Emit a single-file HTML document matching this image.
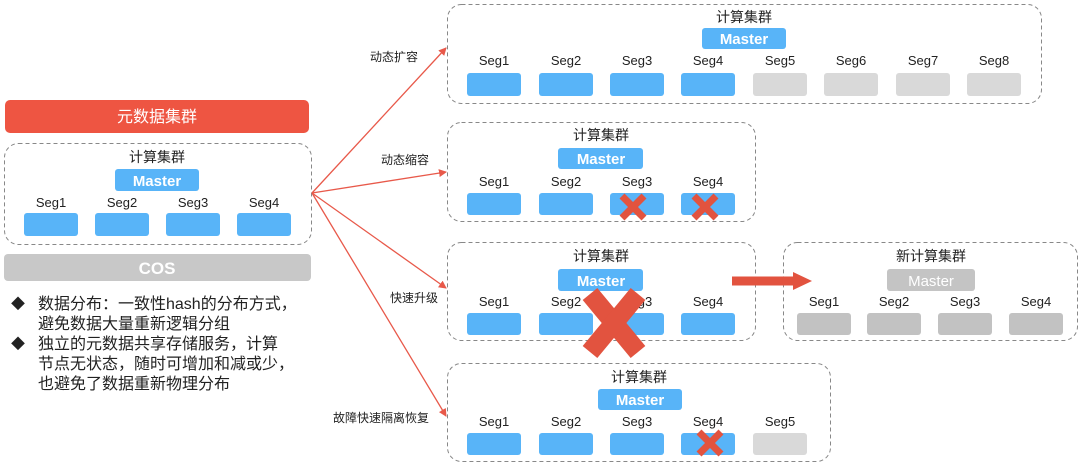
<!DOCTYPE html>
<html><head><meta charset="utf-8"><style>
body{margin:0;background:#fff}
svg{display:block;font-family:"Liberation Sans","Noto Sans CJK SC",sans-serif}
</style></head><body>
<svg width="1080" height="464" viewBox="0 0 1080 464" xmlns="http://www.w3.org/2000/svg">
<defs>
<marker id="ah" markerWidth="8" markerHeight="8" refX="7" refY="4" orient="auto" markerUnits="userSpaceOnUse"><path d="M0,0 L8,4 L0,8 z" fill="#e8594a"/></marker>
</defs>
<g fill="none" stroke="#888" stroke-dasharray="4,3" stroke-width="1">
<rect x="4.5" y="143.5" width="307" height="101" rx="14"/>
<rect x="447.5" y="4.5" width="594" height="99" rx="14"/>
<rect x="447.5" y="122.5" width="308" height="99" rx="14"/>
<rect x="447.5" y="242.5" width="308" height="98" rx="14"/>
<rect x="783.5" y="242.5" width="294" height="98" rx="14"/>
<rect x="447.5" y="363.5" width="383" height="98" rx="14"/>
</g>
<rect x="5" y="100" width="304" height="33" rx="5" fill="#ee5542"/>
<text x="157" y="122" font-size="16" fill="#fff" text-anchor="middle">元数据集群</text>
<rect x="4" y="254" width="307" height="27" rx="4" fill="#c8c8c8"/>
<text x="157" y="274" font-size="17" font-weight="bold" fill="#fff" text-anchor="middle">COS</text>
<g stroke="#e8594a" stroke-width="1.3" marker-end="url(#ah)">
<line x1="312" y1="193" x2="446" y2="48"/>
<line x1="312" y1="193" x2="446" y2="172"/>
<line x1="312" y1="193" x2="446" y2="288"/>
<line x1="312" y1="193" x2="446" y2="416"/>
</g>
<g font-size="12" fill="#222">
<text x="370" y="61">动态扩容</text>
<text x="381" y="164">动态缩容</text>
<text x="390" y="302">快速升级</text>
<text x="333" y="422">故障快速隔离恢复</text>
</g>
<g font-size="14" fill="#222" text-anchor="middle">
<text x="157" y="162">计算集群</text>
<text x="744" y="22">计算集群</text>
<text x="601" y="140">计算集群</text>
<text x="601" y="261">计算集群</text>
<text x="931" y="261">新计算集群</text>
<text x="639" y="382">计算集群</text>
</g>
<g font-size="15" font-weight="bold" fill="#fff" text-anchor="middle">
<rect x="115" y="169" width="84" height="22" rx="3" fill="#58b4f8"/><text x="157" y="186">Master</text>
<rect x="702" y="28" width="84" height="21" rx="3" fill="#58b4f8"/><text x="744" y="44">Master</text>
<rect x="558" y="148" width="85" height="21" rx="3" fill="#58b4f8"/><text x="601" y="164">Master</text>
<rect x="558" y="269" width="85" height="22" rx="3" fill="#58b4f8"/><text x="601" y="286">Master</text>
<rect x="887" y="269" width="88" height="22" rx="3" fill="#c4c4c4"/><text x="931" y="286" font-weight="normal">Master</text>
<rect x="598" y="389" width="84" height="21" rx="3" fill="#58b4f8"/><text x="640" y="405">Master</text>
</g>
<g font-size="13" fill="#222" text-anchor="middle">
<text x="51" y="207">Seg1</text><text x="122" y="207">Seg2</text><text x="193" y="207">Seg3</text><text x="264" y="207">Seg4</text>
<text x="494" y="65">Seg1</text><text x="566" y="65">Seg2</text><text x="637" y="65">Seg3</text><text x="708" y="65">Seg4</text><text x="780" y="65">Seg5</text><text x="851" y="65">Seg6</text><text x="923" y="65">Seg7</text><text x="994" y="65">Seg8</text>
<text x="494" y="186">Seg1</text><text x="566" y="186">Seg2</text><text x="637" y="186">Seg3</text><text x="708" y="186">Seg4</text>
<text x="494" y="306">Seg1</text><text x="566" y="306">Seg2</text><text x="637" y="306">Seg3</text><text x="708" y="306">Seg4</text>
<text x="824" y="306">Seg1</text><text x="894" y="306">Seg2</text><text x="965" y="306">Seg3</text><text x="1036" y="306">Seg4</text>
<text x="494" y="426">Seg1</text><text x="566" y="426">Seg2</text><text x="637" y="426">Seg3</text><text x="708" y="426">Seg4</text><text x="780" y="426">Seg5</text>
</g>
<g fill="#58b4f8">
<rect x="24" y="213" width="54" height="23" rx="3"/><rect x="95" y="213" width="54" height="23" rx="3"/><rect x="166" y="213" width="54" height="23" rx="3"/><rect x="237" y="213" width="54" height="23" rx="3"/>
<rect x="467" y="73" width="54" height="23" rx="3"/><rect x="539" y="73" width="54" height="23" rx="3"/><rect x="610" y="73" width="54" height="23" rx="3"/><rect x="681" y="73" width="54" height="23" rx="3"/>
<rect x="467" y="193" width="54" height="22" rx="3"/><rect x="539" y="193" width="54" height="22" rx="3"/><rect x="610" y="193" width="54" height="22" rx="3"/><rect x="681" y="193" width="54" height="22" rx="3"/>
<rect x="467" y="313" width="54" height="22" rx="3"/><rect x="539" y="313" width="54" height="22" rx="3"/><rect x="610" y="313" width="54" height="22" rx="3"/><rect x="681" y="313" width="54" height="22" rx="3"/>
<rect x="467" y="433" width="54" height="22" rx="3"/><rect x="539" y="433" width="54" height="22" rx="3"/><rect x="610" y="433" width="54" height="22" rx="3"/><rect x="681" y="433" width="54" height="22" rx="3"/>
</g>
<g fill="#d9d9d9">
<rect x="753" y="73" width="54" height="23" rx="3"/><rect x="824" y="73" width="54" height="23" rx="3"/><rect x="896" y="73" width="54" height="23" rx="3"/><rect x="967" y="73" width="54" height="23" rx="3"/>
<rect x="753" y="433" width="54" height="22" rx="3"/>
</g>
<g fill="#c2c2c2">
<rect x="797" y="313" width="54" height="22" rx="3"/><rect x="867" y="313" width="54" height="22" rx="3"/><rect x="938" y="313" width="54" height="22" rx="3"/><rect x="1009" y="313" width="54" height="22" rx="3"/>
</g>
<g stroke="#e2533f" stroke-linecap="butt">
<g stroke-width="7"><line x1="622" y1="196" x2="644" y2="218"/><line x1="644" y1="196" x2="622" y2="218"/>
<line x1="694" y1="196" x2="716" y2="218"/><line x1="716" y1="196" x2="694" y2="218"/>
<line x1="699" y1="432" x2="721" y2="454"/><line x1="721" y1="432" x2="699" y2="454"/></g>
<g stroke-width="19"><line x1="590" y1="294" x2="638" y2="352"/><line x1="638" y1="294" x2="590" y2="352"/></g>
<line x1="732" y1="281" x2="795" y2="281" stroke-width="9"/>
</g>
<path d="M793,272 L812,281 L793,290 z" fill="#e2533f"/>
<g font-size="16" fill="#222">
<text x="11" y="309" font-size="14">◆</text><text x="38" y="309">数据分布：一致性hash的分布方式，</text>
<text x="38" y="329">避免数据大量重新逻辑分组</text>
<text x="11" y="349" font-size="14">◆</text><text x="38" y="349">独立的元数据共享存储服务，计算</text>
<text x="38" y="369">节点无状态，随时可增加和减或少，</text>
<text x="38" y="389">也避免了数据重新物理分布</text>
</g>
</svg>
</body></html>
